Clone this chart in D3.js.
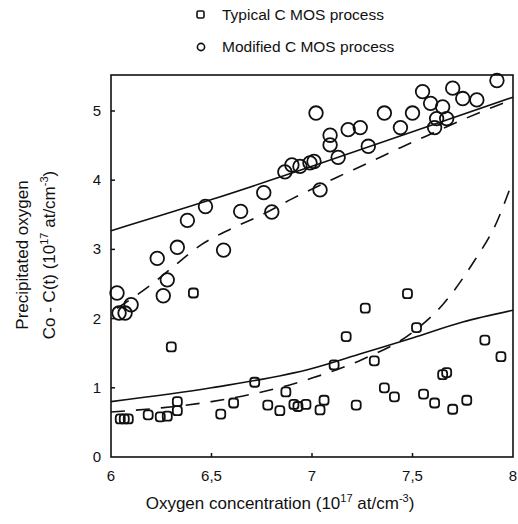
<!DOCTYPE html>
<html>
<head>
<meta charset="utf-8">
<script src="https://cdn.jsdelivr.net/npm/d3@7"></script>
<style>
  body { margin: 0; background: #fff; }
  text { font-family: "Liberation Sans", Arial, sans-serif; fill: #111; }
</style>
</head>
<body>
<div id="chart"></div>
<script>
// typical C MOS process (squares)
var typicalX = [6.41, 6.30, 6.046, 6.066, 6.086, 6.185, 6.245, 6.28, 6.33, 6.33, 6.546, 6.61, 6.715, 6.78, 6.84, 6.87, 6.91, 6.93, 6.97,
                7.06, 7.04, 7.11, 7.17, 7.265, 7.475, 7.52, 7.31, 7.22, 7.36, 7.41, 7.555, 7.61, 7.65, 7.67, 7.70, 7.77, 7.86, 7.94]
var typicalY = [2.37, 1.59, 0.55, 0.55, 0.55, 0.61, 0.58, 0.59, 0.80, 0.67, 0.62, 0.78, 1.08, 0.75, 0.67, 0.94, 0.76, 0.73, 0.76,
                0.82, 0.68, 1.33, 1.74, 2.15, 2.36, 1.87, 1.39, 0.75, 1.00, 0.87, 0.91, 0.78, 1.19, 1.22, 0.69, 0.82, 1.69, 1.45]

// modified C MOS process (circles)
var modifiedX = [6.38, 6.47, 6.645, 6.76, 6.865, 6.90, 6.94, 6.99, 6.23, 6.33, 6.56, 6.80,
                 7.02, 7.09, 7.09, 7.18, 7.24, 7.36, 7.50, 7.44, 7.28, 7.13, 7.01, 7.04,
                 7.55, 7.59, 7.65, 7.62, 7.67, 7.61, 7.70, 7.75, 7.82, 7.92,
                 6.03, 6.04, 6.07, 6.10, 6.26, 6.28]
var modifiedY = [3.42, 3.62, 3.55, 3.82, 4.12, 4.22, 4.20, 4.25, 2.87, 3.03, 2.99, 3.54,
                 4.97, 4.65, 4.51, 4.73, 4.76, 4.97, 4.97, 4.76, 4.49, 4.33, 4.27, 3.86,
                 5.28, 5.11, 5.06, 4.89, 4.89, 4.76, 5.33, 5.18, 5.16, 5.44,
                 2.37, 2.08, 2.08, 2.20, 2.33, 2.56]

// fitted curves
var modSolid = [[6, 3.27], [6.5, 3.72], [7, 4.2], [7.5, 4.7], [8, 5.2]]
var modDashed = [[6.03, 2.15], [6.2, 2.49], [6.31, 2.75], [6.45, 3.07], [6.6, 3.3], [6.75, 3.5], [6.9, 3.73],
                 [7.13, 4.05], [7.28, 4.25], [7.44, 4.47], [7.57, 4.64], [7.77, 4.9], [8, 5.17]]
var typSolid = [[6, 0.8], [6.5, 1.0], [7, 1.28], [7.25, 1.5], [7.5, 1.72], [7.75, 1.95], [8, 2.12]]
var typDashed = [[6, 0.65], [6.25, 0.71], [6.5, 0.8], [6.75, 0.94], [7, 1.14], [7.25, 1.41], [7.5, 1.8],
                 [7.65, 2.2], [7.8, 2.8], [7.92, 3.4], [8, 4.0]]

var xTicks = [6, 6.5, 7, 7.5, 8]
var xTickLabels = ["6", "6,5", "7", "7,5", "8"]
var yTicks = [0, 1, 2, 3, 4, 5]

var width = 518
var height = 524

var x = d3.scaleLinear().domain([6, 8]).range([111, 513])
var y = d3.scaleLinear().domain([0, 5.52]).range([457, 75])

var svg = d3.select("#chart").append("svg")
    .attr("width", width)
    .attr("height", height)

// frame
svg.append("rect")
    .attr("x", x(6)).attr("y", y(5.52))
    .attr("width", x(8) - x(6)).attr("height", y(0) - y(5.52))
    .attr("fill", "none").attr("stroke", "#111").attr("stroke-width", 1.6)

// small tick marks on the inside
svg.selectAll(".xt").data(xTicks.slice(1, 4)).enter().append("line")
    .attr("x1", d => x(d)).attr("x2", d => x(d))
    .attr("y1", y(0)).attr("y2", y(0) - 4)
    .attr("stroke", "#111").attr("stroke-width", 1.5)
svg.selectAll(".yt").data(yTicks.slice(1)).enter().append("line")
    .attr("x1", x(6)).attr("x2", x(6) + 4)
    .attr("y1", d => y(d)).attr("y2", d => y(d))
    .attr("stroke", "#111").attr("stroke-width", 1.5)

// tick labels
svg.selectAll(".xl").data(xTicks).enter().append("text")
    .attr("x", d => x(d)).attr("y", 481)
    .attr("text-anchor", "middle").attr("font-size", 15)
    .text((d, i) => xTickLabels[i])
svg.selectAll(".yl").data(yTicks).enter().append("text")
    .attr("x", 97).attr("y", d => y(d) + 5)
    .attr("text-anchor", "middle").attr("font-size", 15)
    .text(d => d)

// axis titles
var xt = svg.append("text")
    .attr("x", 280).attr("y", 509)
    .attr("text-anchor", "middle").attr("font-size", 17)
xt.append("tspan").text("Oxygen concentration (10")
xt.append("tspan").attr("font-size", 11).attr("dy", -7).text("17")
xt.append("tspan").attr("dy", 7).text(" at/cm")
xt.append("tspan").attr("font-size", 11).attr("dy", -7).text("-3")
xt.append("tspan").attr("dy", 7).text(")")

var yt = svg.append("g").attr("transform", "translate(28,255) rotate(-90)")
yt.append("text").attr("text-anchor", "middle").attr("font-size", 17)
    .text("Precipitated oxygen")
var yt2 = yt.append("text").attr("text-anchor", "middle").attr("font-size", 17).attr("y", 27)
yt2.append("tspan").text("Co - C(t) (10")
yt2.append("tspan").attr("font-size", 11).attr("dy", -7).text("17")
yt2.append("tspan").attr("dy", 7).text(" at/cm")
yt2.append("tspan").attr("font-size", 11).attr("dy", -7).text("-3")
yt2.append("tspan").attr("dy", 7).text(")")

// curves
var line = d3.line().x(d => x(d[0])).y(d => y(d[1])).curve(d3.curveMonotoneX)
svg.append("path").datum(modSolid).attr("d", line)
    .attr("fill", "none").attr("stroke", "#111").attr("stroke-width", 1.6)
svg.append("path").datum(typSolid).attr("d", line)
    .attr("fill", "none").attr("stroke", "#111").attr("stroke-width", 1.6)
svg.append("path").datum(modDashed).attr("d", line)
    .attr("fill", "none").attr("stroke", "#111").attr("stroke-width", 1.6)
    .attr("stroke-dasharray", "14,11")
svg.append("path").datum(typDashed).attr("d", line)
    .attr("fill", "none").attr("stroke", "#111").attr("stroke-width", 1.6)
    .attr("stroke-dasharray", "14,11")

// points
svg.selectAll(".sq").data(typicalX).enter().append("rect")
    .attr("x", d => x(d) - 4.5)
    .attr("y", (d, i) => y(typicalY[i]) - 4.5)
    .attr("width", 9).attr("height", 9).attr("rx", 3)
    .attr("fill", "none").attr("stroke", "#111").attr("stroke-width", 1.8)

svg.selectAll(".ci").data(modifiedX).enter().append("circle")
    .attr("cx", d => x(d))
    .attr("cy", (d, i) => y(modifiedY[i]))
    .attr("r", 6.8)
    .attr("fill", "none").attr("stroke", "#111").attr("stroke-width", 1.8)

// legend
svg.append("rect").attr("x", 197).attr("y", 11).attr("width", 7).attr("height", 7).attr("rx", 1.5)
    .attr("fill", "none").attr("stroke", "#111").attr("stroke-width", 1.6)
svg.append("text").attr("x", 222).attr("y", 20).attr("font-size", 15.5)
    .text("Typical C MOS process")
svg.append("circle").attr("cx", 201).attr("cy", 47).attr("r", 3.6)
    .attr("fill", "none").attr("stroke", "#111").attr("stroke-width", 1.6)
svg.append("text").attr("x", 222).attr("y", 52).attr("font-size", 15.5)
    .text("Modified C MOS process")
</script>
</body>
</html>
